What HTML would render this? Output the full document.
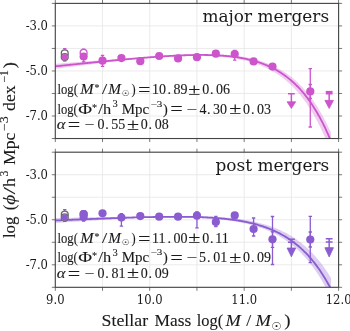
<!DOCTYPE html><html><head><meta charset="utf-8"><title>Stellar mass function</title><style>
html,body{margin:0;padding:0;background:#fff;}
#fig{position:relative;width:350px;height:331px;overflow:hidden;background:#fff;}
svg{position:absolute;left:0;top:0;}
text{fill:#1a1a1a;}
.mt{stroke:#1a1a1a;stroke-width:0.1px;}
.tk{font-family:"DejaVu Serif",serif;font-size:11.6px;}
</style></head><body><div id="fig">
<svg width="350" height="331" viewBox="0 0 350 331">
<defs>
<clipPath id="c0"><rect x="55.3" y="3.4" width="283.30" height="135.12"/></clipPath>
<clipPath id="c1"><rect x="55.3" y="152.2" width="283.30" height="135.12"/></clipPath>
</defs>
<path d="M55.30 3.40V138.52M102.52 3.40V138.52M149.73 3.40V138.52M196.95 3.40V138.52M244.17 3.40V138.52M291.38 3.40V138.52M338.60 3.40V138.52M55.30 3.40H338.60M55.30 25.92H338.60M55.30 48.44H338.60M55.30 70.96H338.60M55.30 93.48H338.60M55.30 116.00H338.60M55.30 138.52H338.60" stroke="#e6e6e6" stroke-width="0.8" fill="none"/>
<path d="M55.30 152.20V287.32M102.52 152.20V287.32M149.73 152.20V287.32M196.95 152.20V287.32M244.17 152.20V287.32M291.38 152.20V287.32M338.60 152.20V287.32M55.30 152.20H338.60M55.30 174.72H338.60M55.30 197.24H338.60M55.30 219.76H338.60M55.30 242.28H338.60M55.30 264.80H338.60M55.30 287.32H338.60" stroke="#e6e6e6" stroke-width="0.8" fill="none"/>
<g clip-path="url(#c0)">
<path d="M55.30 63.83L56.24 63.76L57.19 63.68L58.13 63.60L59.08 63.53L60.02 63.45L60.97 63.38L61.91 63.30L62.85 63.22L63.80 63.15L64.74 63.07L65.69 63.00L66.63 62.92L67.58 62.85L68.52 62.77L69.47 62.70L70.41 62.62L71.35 62.55L72.30 62.47L73.24 62.40L74.19 62.32L75.13 62.25L76.08 62.17L77.02 62.10L77.96 62.03L78.91 61.95L79.85 61.88L80.80 61.80L81.74 61.73L82.69 61.66L83.63 61.58L84.57 61.51L85.52 61.44L86.46 61.36L87.41 61.29L88.35 61.22L89.30 61.14L90.24 61.07L91.18 61.00L92.13 60.93L93.07 60.85L94.02 60.78L94.96 60.71L95.91 60.64L96.85 60.57L97.79 60.50L98.74 60.43L99.68 60.35L100.63 60.28L101.57 60.21L102.52 60.14L103.46 60.07L104.41 60.00L105.35 59.93L106.29 59.86L107.24 59.79L108.18 59.72L109.13 59.65L110.07 59.59L111.02 59.52L111.96 59.45L112.90 59.38L113.85 59.31L114.79 59.25L115.74 59.18L116.68 59.11L117.63 59.04L118.57 58.98L119.51 58.91L120.46 58.85L121.40 58.78L122.35 58.72L123.29 58.65L124.24 58.59L125.18 58.52L126.12 58.46L127.07 58.39L128.01 58.33L128.96 58.27L129.90 58.21L130.85 58.14L131.79 58.08L132.74 58.02L133.68 57.96L134.62 57.90L135.57 57.84L136.51 57.76L137.46 57.68L138.40 57.59L139.35 57.51L140.29 57.43L141.23 57.35L142.18 57.27L143.12 57.20L144.07 57.12L145.01 57.04L145.96 56.96L146.90 56.89L147.84 56.81L148.79 56.73L149.73 56.66L150.68 56.59L151.62 56.51L152.57 56.44L153.51 56.37L154.46 56.29L155.40 56.22L156.34 56.15L157.29 56.08L158.23 56.02L159.18 55.95L160.12 55.88L161.07 55.81L162.01 55.75L162.95 55.68L163.90 55.62L164.84 55.56L165.79 55.49L166.73 55.43L167.68 55.37L168.62 55.31L169.56 55.26L170.51 55.20L171.45 55.14L172.40 55.09L173.34 55.03L174.29 54.98L175.23 54.93L176.17 54.88L177.12 54.83L178.06 54.78L179.01 54.73L179.95 54.68L180.90 54.64L181.84 54.60L182.78 54.55L183.73 54.51L184.67 54.47L185.62 54.44L186.56 54.40L187.51 54.37L188.45 54.33L189.40 54.30L190.34 54.27L191.28 54.24L192.23 54.22L193.17 54.19L194.12 54.17L195.06 54.15L196.01 54.13L196.95 54.11L197.89 54.09L198.84 54.08L199.78 54.07L200.73 54.06L201.67 54.05L202.62 54.05L203.56 54.04L204.50 54.04L205.45 54.05L206.39 54.05L207.34 54.06L208.28 54.07L209.23 54.08L210.17 54.09L211.12 54.11L212.06 54.13L213.00 54.15L213.95 54.18L214.89 54.20L215.84 54.24L216.78 54.27L217.73 54.31L218.67 54.35L219.61 54.39L220.56 54.44L221.50 54.49L222.45 54.55L223.39 54.61L224.34 54.67L225.28 54.73L226.22 54.80L227.17 54.88L228.11 54.95L229.06 55.04L230.00 55.12L230.95 55.21L231.89 55.31L232.83 55.41L233.78 55.51L234.72 55.62L235.67 55.74L236.61 55.86L237.56 55.98L238.50 56.11L239.44 56.24L240.39 56.38L241.33 56.53L242.28 56.68L243.22 56.84L244.17 57.00L245.11 57.17L246.06 57.35L247.00 57.53L247.94 57.72L248.89 57.92L249.83 58.12L250.78 58.33L251.72 58.55L252.67 58.77L253.61 59.00L254.55 59.24L255.50 59.49L256.44 59.75L257.39 60.01L258.33 60.29L259.28 60.57L260.22 60.86L261.16 61.16L262.11 61.47L263.05 61.79L264.00 62.11L264.94 62.45L265.89 62.80L266.83 63.16L267.78 63.53L268.72 63.91L269.66 64.30L270.61 64.71L271.55 65.12L272.50 65.55L273.44 65.99L274.39 66.44L275.33 66.91L276.27 67.39L277.22 67.88L278.16 68.38L279.11 68.90L280.05 69.44L281.00 69.99L281.94 70.55L282.88 71.13L283.83 71.73L284.77 72.34L285.72 72.97L286.66 73.61L287.61 74.28L288.55 74.96L289.49 75.66L290.44 76.37L291.38 77.11L292.33 77.87L293.27 78.64L294.22 79.44L295.16 80.26L296.11 81.10L297.05 81.96L297.99 82.84L298.94 83.75L299.88 84.68L300.83 85.63L301.77 86.61L302.72 87.61L303.66 88.64L304.60 89.70L305.55 90.78L306.49 91.89L307.44 93.03L308.38 94.19L309.33 95.39L310.27 96.62L311.21 97.87L312.16 99.16L313.10 100.49L314.05 101.84L314.99 103.23L315.94 104.65L316.88 106.11L317.82 107.61L318.77 109.14L319.71 110.71L320.66 112.32L321.60 113.97L322.55 115.66L323.49 117.39L324.44 119.17L325.38 120.99L326.32 122.85L327.27 124.76L328.21 126.71L329.16 128.72L330.10 130.77L331.05 132.87L331.05 152.82L330.10 150.29L329.16 147.82L328.21 145.41L327.27 143.05L326.32 140.75L325.38 138.50L324.44 136.31L323.49 134.17L322.55 132.09L321.60 130.05L320.66 128.06L319.71 126.11L318.77 124.22L317.82 122.37L316.88 120.56L315.94 118.80L314.99 117.08L314.05 115.40L313.10 113.76L312.16 112.17L311.21 110.61L310.27 109.08L309.33 107.60L308.38 106.15L307.44 104.74L306.49 103.36L305.55 102.01L304.60 100.70L303.66 99.42L302.72 98.17L301.77 96.95L300.83 95.76L299.88 94.60L298.94 93.47L297.99 92.37L297.05 91.30L296.11 90.25L295.16 89.23L294.22 88.23L293.27 87.26L292.33 86.31L291.38 85.39L290.44 84.49L289.49 83.62L288.55 82.76L287.61 81.93L286.66 81.12L285.72 80.33L284.77 79.56L283.83 78.80L282.88 78.07L281.94 77.36L281.00 76.67L280.05 75.99L279.11 75.33L278.16 74.69L277.22 74.07L276.27 73.46L275.33 72.87L274.39 72.30L273.44 71.74L272.50 71.19L271.55 70.66L270.61 70.15L269.66 69.64L268.72 69.16L267.78 68.68L266.83 68.22L265.89 67.77L264.94 67.33L264.00 66.91L263.05 66.50L262.11 66.10L261.16 65.71L260.22 65.33L259.28 64.96L258.33 64.61L257.39 64.26L256.44 63.93L255.50 63.60L254.55 63.29L253.61 62.98L252.67 62.68L251.72 62.39L250.78 62.11L249.83 61.84L248.89 61.58L247.94 61.33L247.00 61.08L246.06 60.84L245.11 60.61L244.17 60.39L243.22 60.18L242.28 59.97L241.33 59.77L240.39 59.57L239.44 59.39L238.50 59.21L237.56 59.03L236.61 58.86L235.67 58.70L234.72 58.55L233.78 58.40L232.83 58.25L231.89 58.11L230.95 57.98L230.00 57.85L229.06 57.73L228.11 57.61L227.17 57.50L226.22 57.39L225.28 57.29L224.34 57.19L223.39 57.10L222.45 57.01L221.50 56.92L220.56 56.84L219.61 56.76L218.67 56.69L217.73 56.62L216.78 56.56L215.84 56.50L214.89 56.44L213.95 56.39L213.00 56.34L212.06 56.29L211.12 56.25L210.17 56.21L209.23 56.17L208.28 56.13L207.34 56.10L206.39 56.08L205.45 56.05L204.50 56.03L203.56 56.01L202.62 55.99L201.67 55.98L200.73 55.97L199.78 55.96L198.84 55.96L197.89 55.95L196.95 55.95L196.01 55.95L195.06 55.96L194.12 55.96L193.17 55.97L192.23 55.98L191.28 55.99L190.34 56.01L189.40 56.02L188.45 56.04L187.51 56.06L186.56 56.08L185.62 56.11L184.67 56.13L183.73 56.16L182.78 56.19L181.84 56.22L180.90 56.25L179.95 56.28L179.01 56.32L178.06 56.36L177.12 56.39L176.17 56.43L175.23 56.47L174.29 56.52L173.34 56.56L172.40 56.61L171.45 56.65L170.51 56.70L169.56 56.75L168.62 56.80L167.68 56.85L166.73 56.90L165.79 56.96L164.84 57.01L163.90 57.07L162.95 57.12L162.01 57.18L161.07 57.24L160.12 57.30L159.18 57.36L158.23 57.42L157.29 57.48L156.34 57.55L155.40 57.61L154.46 57.67L153.51 57.74L152.57 57.81L151.62 57.87L150.68 57.94L149.73 58.01L148.79 58.08L147.84 58.15L146.90 58.22L145.96 58.29L145.01 58.37L144.07 58.44L143.12 58.51L142.18 58.59L141.23 58.66L140.29 58.74L139.35 58.82L138.40 58.89L137.46 58.97L136.51 59.05L135.57 59.13L134.62 59.23L133.68 59.33L132.74 59.43L131.79 59.53L130.85 59.64L129.90 59.74L128.96 59.85L128.01 59.95L127.07 60.06L126.12 60.16L125.18 60.27L124.24 60.37L123.29 60.48L122.35 60.59L121.40 60.70L120.46 60.80L119.51 60.91L118.57 61.02L117.63 61.13L116.68 61.24L115.74 61.35L114.79 61.46L113.85 61.57L112.90 61.68L111.96 61.79L111.02 61.90L110.07 62.01L109.13 62.13L108.18 62.24L107.24 62.35L106.29 62.46L105.35 62.58L104.41 62.69L103.46 62.80L102.52 62.92L101.57 63.03L100.63 63.14L99.68 63.26L98.74 63.37L97.79 63.49L96.85 63.60L95.91 63.72L94.96 63.83L94.02 63.95L93.07 64.06L92.13 64.18L91.18 64.30L90.24 64.41L89.30 64.53L88.35 64.65L87.41 64.76L86.46 64.88L85.52 65.00L84.57 65.11L83.63 65.23L82.69 65.35L81.74 65.47L80.80 65.58L79.85 65.70L78.91 65.82L77.96 65.94L77.02 66.06L76.08 66.18L75.13 66.29L74.19 66.41L73.24 66.53L72.30 66.65L71.35 66.77L70.41 66.89L69.47 67.01L68.52 67.13L67.58 67.25L66.63 67.37L65.69 67.49L64.74 67.61L63.80 67.73L62.85 67.85L61.91 67.97L60.97 68.09L60.02 68.21L59.08 68.33L58.13 68.45L57.19 68.57L56.24 68.69L55.30 68.81Z" fill="#cc55cc" fill-opacity="0.3" stroke="none"/>
<path d="M55.30 66.32L56.24 66.22L57.19 66.12L58.13 66.02L59.08 65.92L60.02 65.83L60.97 65.73L61.91 65.63L62.85 65.53L63.80 65.44L64.74 65.34L65.69 65.24L66.63 65.14L67.58 65.04L68.52 64.95L69.47 64.85L70.41 64.75L71.35 64.66L72.30 64.56L73.24 64.46L74.19 64.37L75.13 64.27L76.08 64.17L77.02 64.08L77.96 63.98L78.91 63.88L79.85 63.79L80.80 63.69L81.74 63.59L82.69 63.50L83.63 63.40L84.57 63.31L85.52 63.21L86.46 63.12L87.41 63.02L88.35 62.93L89.30 62.83L90.24 62.74L91.18 62.64L92.13 62.55L93.07 62.46L94.02 62.36L94.96 62.27L95.91 62.17L96.85 62.08L97.79 61.99L98.74 61.89L99.68 61.80L100.63 61.71L101.57 61.62L102.52 61.52L103.46 61.43L104.41 61.34L105.35 61.25L106.29 61.16L107.24 61.07L108.18 60.97L109.13 60.88L110.07 60.79L111.02 60.70L111.96 60.61L112.90 60.52L113.85 60.43L114.79 60.35L115.74 60.26L116.68 60.17L117.63 60.08L118.57 59.99L119.51 59.90L120.46 59.82L121.40 59.73L122.35 59.64L123.29 59.56L124.24 59.47L125.18 59.39L126.12 59.30L127.07 59.22L128.01 59.13L128.96 59.05L129.90 58.96L130.85 58.88L131.79 58.80L132.74 58.71L133.68 58.63L134.62 58.55L135.57 58.47L136.51 58.39L137.46 58.31L138.40 58.23L139.35 58.15L140.29 58.07L141.23 57.99L142.18 57.92L143.12 57.84L144.07 57.76L145.01 57.69L145.96 57.61L146.90 57.54L147.84 57.46L148.79 57.39L149.73 57.32L150.68 57.25L151.62 57.17L152.57 57.10L153.51 57.03L154.46 56.97L155.40 56.90L156.34 56.83L157.29 56.76L158.23 56.70L159.18 56.63L160.12 56.57L161.07 56.50L162.01 56.44L162.95 56.38L163.90 56.32L164.84 56.26L165.79 56.20L166.73 56.14L167.68 56.08L168.62 56.03L169.56 55.97L170.51 55.92L171.45 55.87L172.40 55.82L173.34 55.77L174.29 55.72L175.23 55.67L176.17 55.62L177.12 55.58L178.06 55.53L179.01 55.49L179.95 55.45L180.90 55.41L181.84 55.37L182.78 55.33L183.73 55.30L184.67 55.26L185.62 55.23L186.56 55.20L187.51 55.17L188.45 55.14L189.40 55.12L190.34 55.09L191.28 55.07L192.23 55.05L193.17 55.03L194.12 55.01L195.06 55.00L196.01 54.99L196.95 54.98L197.89 54.97L198.84 54.96L199.78 54.96L200.73 54.95L201.67 54.95L202.62 54.96L203.56 54.96L204.50 54.97L205.45 54.98L206.39 54.99L207.34 55.01L208.28 55.03L209.23 55.05L210.17 55.07L211.12 55.10L212.06 55.13L213.00 55.16L213.95 55.20L214.89 55.24L215.84 55.28L216.78 55.32L217.73 55.37L218.67 55.43L219.61 55.48L220.56 55.54L221.50 55.61L222.45 55.67L223.39 55.75L224.34 55.82L225.28 55.90L226.22 55.98L227.17 56.07L228.11 56.17L229.06 56.26L230.00 56.36L230.95 56.47L231.89 56.58L232.83 56.70L233.78 56.82L234.72 56.95L235.67 57.08L236.61 57.21L237.56 57.36L238.50 57.51L239.44 57.66L240.39 57.82L241.33 57.99L242.28 58.16L243.22 58.34L244.17 58.52L245.11 58.72L246.06 58.91L247.00 59.12L247.94 59.33L248.89 59.55L249.83 59.78L250.78 60.02L251.72 60.26L252.67 60.51L253.61 60.77L254.55 61.04L255.50 61.32L256.44 61.60L257.39 61.90L258.33 62.20L259.28 62.51L260.22 62.84L261.16 63.17L262.11 63.51L263.05 63.87L264.00 64.23L264.94 64.60L265.89 64.99L266.83 65.39L267.78 65.80L268.72 66.22L269.66 66.65L270.61 67.09L271.55 67.55L272.50 68.02L273.44 68.51L274.39 69.01L275.33 69.52L276.27 70.04L277.22 70.58L278.16 71.14L279.11 71.71L280.05 72.30L281.00 72.90L281.94 73.52L282.88 74.15L283.83 74.81L284.77 75.48L285.72 76.17L286.66 76.87L287.61 77.60L288.55 78.34L289.49 79.11L290.44 79.89L291.38 80.70L292.33 81.53L293.27 82.38L294.22 83.25L295.16 84.14L296.11 85.06L297.05 86.00L297.99 86.96L298.94 87.95L299.88 88.96L300.83 90.00L301.77 91.07L302.72 92.16L303.66 93.29L304.60 94.44L305.55 95.62L306.49 96.83L307.44 98.07L308.38 99.34L309.33 100.64L310.27 101.98L311.21 103.35L312.16 104.75L313.10 106.19L314.05 107.66L314.99 109.18L315.94 110.72L316.88 112.31L317.82 113.94L318.77 115.61L319.71 117.31L320.66 119.06L321.60 120.86L322.55 122.70L323.49 124.58L324.44 126.51L325.38 128.48L326.32 130.51L327.27 132.58L328.21 134.71L329.16 136.88L330.10 139.11L331.05 141.40" fill="none" stroke="#cc55cc" stroke-width="1.8"/>
</g>
<g clip-path="url(#c1)">
<path d="M55.30 217.99L56.24 217.98L57.19 217.96L58.13 217.94L59.08 217.92L60.02 217.90L60.97 217.88L61.91 217.87L62.85 217.85L63.80 217.83L64.74 217.81L65.69 217.80L66.63 217.78L67.58 217.76L68.52 217.74L69.47 217.72L70.41 217.71L71.35 217.69L72.30 217.67L73.24 217.66L74.19 217.64L75.13 217.62L76.08 217.60L77.02 217.59L77.96 217.57L78.91 217.55L79.85 217.54L80.80 217.52L81.74 217.50L82.69 217.49L83.63 217.47L84.57 217.45L85.52 217.44L86.46 217.42L87.41 217.41L88.35 217.39L89.30 217.37L90.24 217.36L91.18 217.34L92.13 217.33L93.07 217.31L94.02 217.30L94.96 217.28L95.91 217.27L96.85 217.25L97.79 217.24L98.74 217.22L99.68 217.21L100.63 217.19L101.57 217.18L102.52 217.16L103.46 217.15L104.41 217.14L105.35 217.12L106.29 217.11L107.24 217.10L108.18 217.08L109.13 217.07L110.07 217.06L111.02 217.04L111.96 217.03L112.90 217.02L113.85 217.01L114.79 217.00L115.74 216.98L116.68 216.97L117.63 216.96L118.57 216.95L119.51 216.94L120.46 216.93L121.40 216.92L122.35 216.91L123.29 216.90L124.24 216.89L125.18 216.88L126.12 216.87L127.07 216.86L128.01 216.85L128.96 216.84L129.90 216.83L130.85 216.82L131.79 216.82L132.74 216.81L133.68 216.80L134.62 216.80L135.57 216.79L136.51 216.76L137.46 216.73L138.40 216.70L139.35 216.68L140.29 216.65L141.23 216.62L142.18 216.59L143.12 216.57L144.07 216.54L145.01 216.52L145.96 216.49L146.90 216.47L147.84 216.44L148.79 216.42L149.73 216.40L150.68 216.37L151.62 216.35L152.57 216.33L153.51 216.31L154.46 216.29L155.40 216.27L156.34 216.25L157.29 216.23L158.23 216.21L159.18 216.19L160.12 216.17L161.07 216.15L162.01 216.14L162.95 216.12L163.90 216.11L164.84 216.09L165.79 216.08L166.73 216.06L167.68 216.05L168.62 216.04L169.56 216.03L170.51 216.02L171.45 216.01L172.40 216.00L173.34 215.99L174.29 215.98L175.23 215.97L176.17 215.97L177.12 215.96L178.06 215.96L179.01 215.96L179.95 215.95L180.90 215.95L181.84 215.95L182.78 215.95L183.73 215.96L184.67 215.96L185.62 215.96L186.56 215.97L187.51 215.97L188.45 215.98L189.40 215.99L190.34 216.00L191.28 216.01L192.23 216.02L193.17 216.03L194.12 216.05L195.06 216.06L196.01 216.08L196.95 216.10L197.89 216.12L198.84 216.14L199.78 216.16L200.73 216.19L201.67 216.21L202.62 216.24L203.56 216.27L204.50 216.30L205.45 216.33L206.39 216.37L207.34 216.40L208.28 216.44L209.23 216.48L210.17 216.52L211.12 216.57L212.06 216.61L213.00 216.66L213.95 216.71L214.89 216.76L215.84 216.82L216.78 216.88L217.73 216.93L218.67 217.00L219.61 217.06L220.56 217.13L221.50 217.19L222.45 217.27L223.39 217.34L224.34 217.42L225.28 217.50L226.22 217.58L227.17 217.66L228.11 217.75L229.06 217.84L230.00 217.94L230.95 218.04L231.89 218.14L232.83 218.24L233.78 218.35L234.72 218.46L235.67 218.57L236.61 218.69L237.56 218.82L238.50 218.94L239.44 219.07L240.39 219.21L241.33 219.34L242.28 219.49L243.22 219.63L244.17 219.78L245.11 219.94L246.06 220.10L247.00 220.27L247.94 220.44L248.89 220.61L249.83 220.79L250.78 220.97L251.72 221.17L252.67 221.36L253.61 221.56L254.55 221.77L255.50 221.98L256.44 222.20L257.39 222.43L258.33 222.66L259.28 222.89L260.22 223.14L261.16 223.39L262.11 223.65L263.05 223.91L264.00 224.18L264.94 224.46L265.89 224.75L266.83 225.04L267.78 225.34L268.72 225.65L269.66 225.97L270.61 226.30L271.55 226.64L272.50 226.98L273.44 227.33L274.39 227.70L275.33 228.07L276.27 228.45L277.22 228.84L278.16 229.24L279.11 229.65L280.05 230.08L281.00 230.51L281.94 230.95L282.88 231.41L283.83 231.88L284.77 232.35L285.72 232.85L286.66 233.35L287.61 233.87L288.55 234.40L289.49 234.94L290.44 235.50L291.38 236.07L292.33 236.65L293.27 237.25L294.22 237.86L295.16 238.49L296.11 239.14L297.05 239.80L297.99 240.48L298.94 241.17L299.88 241.88L300.83 242.61L301.77 243.36L302.72 244.13L303.66 244.91L304.60 245.71L305.55 246.54L306.49 247.38L307.44 248.25L308.38 249.13L309.33 250.04L310.27 250.97L311.21 251.92L312.16 252.89L313.10 253.89L314.05 254.92L314.99 255.96L315.94 257.04L316.88 258.14L317.82 259.26L318.77 260.41L319.71 261.59L320.66 262.80L321.60 264.04L322.55 265.31L323.49 266.61L324.44 267.94L325.38 269.30L326.32 270.70L327.27 272.12L328.21 273.59L329.16 275.08L330.10 276.62L331.05 278.19L331.05 298.23L330.10 296.23L329.16 294.28L328.21 292.37L327.27 290.50L326.32 288.68L325.38 286.90L324.44 285.17L323.49 283.47L322.55 281.81L321.60 280.20L320.66 278.62L319.71 277.07L318.77 275.56L317.82 274.09L316.88 272.65L315.94 271.25L314.99 269.88L314.05 268.54L313.10 267.23L312.16 265.96L311.21 264.71L310.27 263.49L309.33 262.30L308.38 261.14L307.44 260.01L306.49 258.90L305.55 257.82L304.60 256.77L303.66 255.74L302.72 254.73L301.77 253.75L300.83 252.79L299.88 251.86L298.94 250.95L297.99 250.05L297.05 249.18L296.11 248.34L295.16 247.51L294.22 246.70L293.27 245.91L292.33 245.14L291.38 244.38L290.44 243.65L289.49 242.93L288.55 242.23L287.61 241.55L286.66 240.89L285.72 240.24L284.77 239.60L283.83 238.98L282.88 238.38L281.94 237.79L281.00 237.22L280.05 236.66L279.11 236.11L278.16 235.58L277.22 235.06L276.27 234.55L275.33 234.06L274.39 233.57L273.44 233.10L272.50 232.64L271.55 232.20L270.61 231.76L269.66 231.33L268.72 230.92L267.78 230.52L266.83 230.12L265.89 229.74L264.94 229.36L264.00 229.00L263.05 228.64L262.11 228.30L261.16 227.96L260.22 227.63L259.28 227.31L258.33 227.00L257.39 226.69L256.44 226.40L255.50 226.11L254.55 225.83L253.61 225.55L252.67 225.29L251.72 225.03L250.78 224.77L249.83 224.53L248.89 224.29L247.94 224.06L247.00 223.83L246.06 223.61L245.11 223.39L244.17 223.18L243.22 222.98L242.28 222.78L241.33 222.59L240.39 222.41L239.44 222.22L238.50 222.05L237.56 221.88L236.61 221.71L235.67 221.55L234.72 221.39L233.78 221.24L232.83 221.09L231.89 220.95L230.95 220.81L230.00 220.67L229.06 220.54L228.11 220.42L227.17 220.29L226.22 220.17L225.28 220.06L224.34 219.94L223.39 219.84L222.45 219.73L221.50 219.63L220.56 219.53L219.61 219.44L218.67 219.34L217.73 219.25L216.78 219.17L215.84 219.08L214.89 219.00L213.95 218.93L213.00 218.85L212.06 218.78L211.12 218.71L210.17 218.64L209.23 218.58L208.28 218.52L207.34 218.46L206.39 218.40L205.45 218.34L204.50 218.29L203.56 218.24L202.62 218.19L201.67 218.15L200.73 218.10L199.78 218.06L198.84 218.02L197.89 217.98L196.95 217.94L196.01 217.91L195.06 217.88L194.12 217.84L193.17 217.81L192.23 217.79L191.28 217.76L190.34 217.74L189.40 217.71L188.45 217.69L187.51 217.67L186.56 217.65L185.62 217.63L184.67 217.62L183.73 217.60L182.78 217.59L181.84 217.58L180.90 217.57L179.95 217.56L179.01 217.55L178.06 217.54L177.12 217.53L176.17 217.53L175.23 217.52L174.29 217.52L173.34 217.52L172.40 217.52L171.45 217.52L170.51 217.52L169.56 217.52L168.62 217.52L167.68 217.53L166.73 217.53L165.79 217.54L164.84 217.55L163.90 217.55L162.95 217.56L162.01 217.57L161.07 217.58L160.12 217.59L159.18 217.60L158.23 217.61L157.29 217.63L156.34 217.64L155.40 217.65L154.46 217.67L153.51 217.68L152.57 217.70L151.62 217.71L150.68 217.73L149.73 217.75L148.79 217.77L147.84 217.79L146.90 217.81L145.96 217.83L145.01 217.85L144.07 217.87L143.12 217.89L142.18 217.91L141.23 217.93L140.29 217.96L139.35 217.98L138.40 218.00L137.46 218.03L136.51 218.05L135.57 218.08L134.62 218.12L133.68 218.17L132.74 218.22L131.79 218.27L130.85 218.32L129.90 218.37L128.96 218.42L128.01 218.47L127.07 218.52L126.12 218.57L125.18 218.62L124.24 218.68L123.29 218.73L122.35 218.78L121.40 218.83L120.46 218.89L119.51 218.94L118.57 218.99L117.63 219.05L116.68 219.10L115.74 219.15L114.79 219.21L113.85 219.26L112.90 219.32L111.96 219.37L111.02 219.43L110.07 219.49L109.13 219.54L108.18 219.60L107.24 219.65L106.29 219.71L105.35 219.77L104.41 219.82L103.46 219.88L102.52 219.94L101.57 220.00L100.63 220.05L99.68 220.11L98.74 220.17L97.79 220.23L96.85 220.29L95.91 220.35L94.96 220.40L94.02 220.46L93.07 220.52L92.13 220.58L91.18 220.64L90.24 220.70L89.30 220.76L88.35 220.82L87.41 220.88L86.46 220.94L85.52 221.00L84.57 221.06L83.63 221.12L82.69 221.18L81.74 221.24L80.80 221.30L79.85 221.36L78.91 221.42L77.96 221.48L77.02 221.54L76.08 221.61L75.13 221.67L74.19 221.73L73.24 221.79L72.30 221.85L71.35 221.91L70.41 221.97L69.47 222.04L68.52 222.10L67.58 222.16L66.63 222.22L65.69 222.28L64.74 222.35L63.80 222.41L62.85 222.47L61.91 222.53L60.97 222.59L60.02 222.66L59.08 222.72L58.13 222.78L57.19 222.85L56.24 222.91L55.30 222.97Z" fill="#8a5cd0" fill-opacity="0.3" stroke="none"/>
<path d="M55.30 220.48L56.24 220.44L57.19 220.40L58.13 220.36L59.08 220.32L60.02 220.28L60.97 220.24L61.91 220.20L62.85 220.16L63.80 220.12L64.74 220.08L65.69 220.04L66.63 220.00L67.58 219.96L68.52 219.92L69.47 219.88L70.41 219.84L71.35 219.80L72.30 219.76L73.24 219.72L74.19 219.68L75.13 219.65L76.08 219.61L77.02 219.57L77.96 219.53L78.91 219.49L79.85 219.45L80.80 219.41L81.74 219.37L82.69 219.34L83.63 219.30L84.57 219.26L85.52 219.22L86.46 219.18L87.41 219.14L88.35 219.11L89.30 219.07L90.24 219.03L91.18 218.99L92.13 218.96L93.07 218.92L94.02 218.88L94.96 218.85L95.91 218.81L96.85 218.77L97.79 218.74L98.74 218.70L99.68 218.66L100.63 218.63L101.57 218.59L102.52 218.56L103.46 218.52L104.41 218.48L105.35 218.45L106.29 218.41L107.24 218.38L108.18 218.34L109.13 218.31L110.07 218.28L111.02 218.24L111.96 218.21L112.90 218.17L113.85 218.14L114.79 218.11L115.74 218.07L116.68 218.04L117.63 218.01L118.57 217.98L119.51 217.94L120.46 217.91L121.40 217.88L122.35 217.85L123.29 217.82L124.24 217.79L125.18 217.76L126.12 217.73L127.07 217.70L128.01 217.67L128.96 217.64L129.90 217.61L130.85 217.58L131.79 217.55L132.74 217.52L133.68 217.50L134.62 217.47L135.57 217.44L136.51 217.41L137.46 217.39L138.40 217.36L139.35 217.34L140.29 217.31L141.23 217.29L142.18 217.26L143.12 217.24L144.07 217.22L145.01 217.19L145.96 217.17L146.90 217.15L147.84 217.13L148.79 217.11L149.73 217.08L150.68 217.06L151.62 217.05L152.57 217.03L153.51 217.01L154.46 216.99L155.40 216.97L156.34 216.96L157.29 216.94L158.23 216.93L159.18 216.91L160.12 216.90L161.07 216.88L162.01 216.87L162.95 216.86L163.90 216.85L164.84 216.84L165.79 216.83L166.73 216.82L167.68 216.81L168.62 216.80L169.56 216.79L170.51 216.79L171.45 216.78L172.40 216.78L173.34 216.78L174.29 216.77L175.23 216.77L176.17 216.77L177.12 216.77L178.06 216.77L179.01 216.78L179.95 216.78L180.90 216.79L181.84 216.79L182.78 216.80L183.73 216.81L184.67 216.82L185.62 216.83L186.56 216.84L187.51 216.85L188.45 216.87L189.40 216.88L190.34 216.90L191.28 216.92L192.23 216.94L193.17 216.96L194.12 216.98L195.06 217.01L196.01 217.03L196.95 217.06L197.89 217.09L198.84 217.12L199.78 217.15L200.73 217.19L201.67 217.22L202.62 217.26L203.56 217.30L204.50 217.34L205.45 217.39L206.39 217.43L207.34 217.48L208.28 217.53L209.23 217.58L210.17 217.64L211.12 217.69L212.06 217.75L213.00 217.81L213.95 217.88L214.89 217.94L215.84 218.01L216.78 218.08L217.73 218.16L218.67 218.24L219.61 218.32L220.56 218.40L221.50 218.48L222.45 218.57L223.39 218.66L224.34 218.76L225.28 218.85L226.22 218.96L227.17 219.06L228.11 219.17L229.06 219.28L230.00 219.39L230.95 219.51L231.89 219.63L232.83 219.76L233.78 219.89L234.72 220.02L235.67 220.16L236.61 220.31L237.56 220.45L238.50 220.60L239.44 220.76L240.39 220.92L241.33 221.08L242.28 221.25L243.22 221.43L244.17 221.61L245.11 221.79L246.06 221.98L247.00 222.18L247.94 222.38L248.89 222.59L249.83 222.80L250.78 223.02L251.72 223.24L252.67 223.48L253.61 223.71L254.55 223.96L255.50 224.21L256.44 224.47L257.39 224.73L258.33 225.00L259.28 225.28L260.22 225.57L261.16 225.86L262.11 226.16L263.05 226.47L264.00 226.79L264.94 227.12L265.89 227.45L266.83 227.80L267.78 228.15L268.72 228.51L269.66 228.88L270.61 229.27L271.55 229.66L272.50 230.06L273.44 230.47L274.39 230.89L275.33 231.33L276.27 231.77L277.22 232.23L278.16 232.69L279.11 233.17L280.05 233.66L281.00 234.17L281.94 234.68L282.88 235.21L283.83 235.76L284.77 236.31L285.72 236.88L286.66 237.47L287.61 238.07L288.55 238.68L289.49 239.31L290.44 239.96L291.38 240.62L292.33 241.29L293.27 241.99L294.22 242.70L295.16 243.43L296.11 244.18L297.05 244.94L297.99 245.73L298.94 246.53L299.88 247.35L300.83 248.20L301.77 249.06L302.72 249.95L303.66 250.85L304.60 251.78L305.55 252.73L306.49 253.71L307.44 254.71L308.38 255.73L309.33 256.78L310.27 257.85L311.21 258.95L312.16 260.08L313.10 261.23L314.05 262.41L314.99 263.62L315.94 264.86L316.88 266.12L317.82 267.42L318.77 268.75L319.71 270.11L320.66 271.51L321.60 272.94L322.55 274.40L323.49 275.90L324.44 277.43L325.38 279.00L326.32 280.61L327.27 282.25L328.21 283.94L329.16 285.66L330.10 287.43L331.05 289.24" fill="none" stroke="#8a5cd0" stroke-width="1.8"/>
</g>
<g clip-path="url(#c0)">
<path d="M64.74 48.70V61.20M63.04 48.70H66.44M63.04 61.20H66.44" stroke="#cc55cc" stroke-width="1.3" fill="none"/>
<path d="M83.63 49.20V61.90M81.93 49.20H85.33M81.93 61.90H85.33" stroke="#cc55cc" stroke-width="1.3" fill="none"/>
<path d="M102.52 55.30V66.40M100.82 55.30H104.22M100.82 66.40H104.22" stroke="#cc55cc" stroke-width="1.3" fill="none"/>
<path d="M234.72 50.50V60.20M233.02 50.50H236.42M233.02 60.20H236.42" stroke="#cc55cc" stroke-width="1.3" fill="none"/>
<path d="M310.27 68.60V127.00M308.57 68.60H311.97M308.57 127.00H311.97" stroke="#cc55cc" stroke-width="1.3" fill="none"/>
<path d="M310.27 84.50V98.30M308.57 84.50H311.97M308.57 98.30H311.97" stroke="#cc55cc" stroke-width="1.3" fill="none"/>
<circle cx="64.74" cy="53.40" r="3.45" fill="#fff" stroke="#6b6b6b" stroke-width="1.3"/>
<circle cx="64.74" cy="57.00" r="3.45" fill="#fff" stroke="#6b6b6b" stroke-width="1.3"/>
<circle cx="83.63" cy="52.90" r="3.45" fill="#fff" stroke="#cc55cc" stroke-width="1.3"/>
<circle cx="64.74" cy="57.10" r="3.1" fill="#cc55cc"/>
<circle cx="83.63" cy="56.50" r="4.1" fill="#cc55cc"/>
<circle cx="102.52" cy="60.70" r="4.1" fill="#cc55cc"/>
<circle cx="121.40" cy="58.10" r="4.1" fill="#cc55cc"/>
<circle cx="140.29" cy="61.20" r="4.1" fill="#cc55cc"/>
<circle cx="159.18" cy="56.00" r="4.1" fill="#cc55cc"/>
<circle cx="178.06" cy="58.40" r="4.1" fill="#cc55cc"/>
<circle cx="196.95" cy="57.20" r="4.1" fill="#cc55cc"/>
<circle cx="215.84" cy="53.70" r="4.1" fill="#cc55cc"/>
<circle cx="234.72" cy="54.10" r="4.1" fill="#cc55cc"/>
<circle cx="253.61" cy="61.40" r="4.1" fill="#cc55cc"/>
<circle cx="272.50" cy="66.60" r="4.1" fill="#cc55cc"/>
<path d="M291.38 93.70V103.40" stroke="#cc55cc" stroke-width="1.5"/>
<path d="M287.98 93.70H294.78" stroke="#cc55cc" stroke-width="1.5"/>
<path d="M287.08 101.80L295.68 101.80L291.38 108.40Z" fill="#cc55cc" stroke="#cc55cc" stroke-width="0.8" stroke-linejoin="miter"/>
<circle cx="310.27" cy="91.40" r="4.1" fill="#cc55cc"/>
<path d="M329.16 90.90V102.00" stroke="#cc55cc" stroke-width="1.5"/>
<rect x="325.76" y="90.90" width="6.8" height="3.60" fill="#cc55cc"/>
<path d="M325.76 101.20H332.56" stroke="#cc55cc" stroke-width="1.5"/>
<path d="M324.86 100.40L333.46 100.40L329.16 108.50Z" fill="#cc55cc" stroke="#cc55cc" stroke-width="0.8" stroke-linejoin="miter"/>
</g>
<g clip-path="url(#c1)">
<path d="M64.74 209.60V221.30M63.04 209.60H66.44M63.04 221.30H66.44" stroke="#8a5cd0" stroke-width="1.3" fill="none"/>
<path d="M83.63 210.90V221.00M81.93 210.90H85.33M81.93 221.00H85.33" stroke="#8a5cd0" stroke-width="1.3" fill="none"/>
<path d="M121.40 213.60V226.10M119.70 213.60H123.10M119.70 226.10H123.10" stroke="#8a5cd0" stroke-width="1.3" fill="none"/>
<path d="M196.95 212.00V227.90M195.25 212.00H198.65M195.25 227.90H198.65" stroke="#8a5cd0" stroke-width="1.3" fill="none"/>
<path d="M215.84 216.30V226.60M214.14 216.30H217.54M214.14 226.60H217.54" stroke="#8a5cd0" stroke-width="1.3" fill="none"/>
<path d="M253.61 218.00V236.00M251.91 218.00H255.31M251.91 236.00H255.31" stroke="#8a5cd0" stroke-width="1.3" fill="none"/>
<path d="M272.50 216.50V264.50M270.80 216.50H274.20M270.80 264.50H274.20" stroke="#8a5cd0" stroke-width="1.3" fill="none"/>
<path d="M272.50 231.80V247.30M270.80 231.80H274.20M270.80 247.30H274.20" stroke="#8a5cd0" stroke-width="1.3" fill="none"/>
<path d="M310.27 216.30V262.60M308.57 216.30H311.97M308.57 262.60H311.97" stroke="#8a5cd0" stroke-width="1.3" fill="none"/>
<path d="M310.27 232.00V247.00M308.57 232.00H311.97M308.57 247.00H311.97" stroke="#8a5cd0" stroke-width="1.3" fill="none"/>
<circle cx="64.74" cy="214.60" r="3.45" fill="#fff" stroke="#6b6b6b" stroke-width="1.3"/>
<circle cx="64.74" cy="217.40" r="3.45" fill="#fff" stroke="#6b6b6b" stroke-width="1.3"/>
<circle cx="83.63" cy="214.00" r="3.45" fill="#fff" stroke="#8a5cd0" stroke-width="1.3"/>
<circle cx="64.74" cy="217.40" r="3.1" fill="#8a5cd0"/>
<circle cx="83.63" cy="214.20" r="4.1" fill="#8a5cd0"/>
<circle cx="83.63" cy="217.00" r="4.1" fill="#8a5cd0"/>
<circle cx="102.52" cy="213.30" r="4.1" fill="#8a5cd0"/>
<circle cx="121.40" cy="217.60" r="4.1" fill="#8a5cd0"/>
<circle cx="140.29" cy="216.10" r="4.1" fill="#8a5cd0"/>
<circle cx="159.18" cy="216.70" r="4.1" fill="#8a5cd0"/>
<circle cx="178.06" cy="216.70" r="4.1" fill="#8a5cd0"/>
<circle cx="196.95" cy="215.70" r="4.1" fill="#8a5cd0"/>
<circle cx="215.84" cy="222.00" r="4.1" fill="#8a5cd0"/>
<circle cx="234.72" cy="215.40" r="4.1" fill="#8a5cd0"/>
<circle cx="253.61" cy="229.00" r="4.1" fill="#8a5cd0"/>
<circle cx="272.50" cy="239.30" r="4.1" fill="#8a5cd0"/>
<path d="M291.38 239.30V249.60" stroke="#8a5cd0" stroke-width="1.5"/>
<path d="M287.98 239.30H294.78" stroke="#8a5cd0" stroke-width="1.5"/>
<path d="M287.98 242.30H294.78" stroke="#8a5cd0" stroke-width="1.5"/>
<path d="M287.98 248.90H294.78" stroke="#8a5cd0" stroke-width="1.5"/>
<path d="M287.08 248.00L295.68 248.00L291.38 256.80Z" fill="#8a5cd0" stroke="#8a5cd0" stroke-width="0.8" stroke-linejoin="miter"/>
<circle cx="310.27" cy="239.50" r="4.1" fill="#8a5cd0"/>
<path d="M329.16 238.70V249.30" stroke="#8a5cd0" stroke-width="1.5"/>
<path d="M325.76 238.70H332.56" stroke="#8a5cd0" stroke-width="1.5"/>
<path d="M325.76 242.10H332.56" stroke="#8a5cd0" stroke-width="1.5"/>
<path d="M325.76 248.60H332.56" stroke="#8a5cd0" stroke-width="1.5"/>
<path d="M324.86 247.70L333.46 247.70L329.16 257.00Z" fill="#8a5cd0" stroke="#8a5cd0" stroke-width="0.8" stroke-linejoin="miter"/>
</g>
<path d="M55.30 3.40v-3.5M55.30 138.52v3.5M102.52 3.40v-3.5M102.52 138.52v3.5M149.73 3.40v-3.5M149.73 138.52v3.5M196.95 3.40v-3.5M196.95 138.52v3.5M244.17 3.40v-3.5M244.17 138.52v3.5M291.38 3.40v-3.5M291.38 138.52v3.5M338.60 3.40v-3.5M338.60 138.52v3.5M55.30 3.40h-3.5M338.60 3.40h3.5M55.30 25.92h-3.5M338.60 25.92h3.5M55.30 48.44h-3.5M338.60 48.44h3.5M55.30 70.96h-3.5M338.60 70.96h3.5M55.30 93.48h-3.5M338.60 93.48h3.5M55.30 116.00h-3.5M338.60 116.00h3.5M55.30 138.52h-3.5M338.60 138.52h3.5" stroke="#555" stroke-width="0.8" fill="none"/>
<rect x="55.3" y="3.4" width="283.30" height="135.12" fill="none" stroke="#444" stroke-width="1.1"/>
<path d="M55.30 152.20v-3.5M55.30 287.32v3.5M102.52 152.20v-3.5M102.52 287.32v3.5M149.73 152.20v-3.5M149.73 287.32v3.5M196.95 152.20v-3.5M196.95 287.32v3.5M244.17 152.20v-3.5M244.17 287.32v3.5M291.38 152.20v-3.5M291.38 287.32v3.5M338.60 152.20v-3.5M338.60 287.32v3.5M55.30 152.20h-3.5M338.60 152.20h3.5M55.30 174.72h-3.5M338.60 174.72h3.5M55.30 197.24h-3.5M338.60 197.24h3.5M55.30 219.76h-3.5M338.60 219.76h3.5M55.30 242.28h-3.5M338.60 242.28h3.5M55.30 264.80h-3.5M338.60 264.80h3.5M55.30 287.32h-3.5M338.60 287.32h3.5" stroke="#555" stroke-width="0.8" fill="none"/>
<rect x="55.3" y="152.2" width="283.30" height="135.12" fill="none" stroke="#444" stroke-width="1.1"/>
<text class="tk" transform="translate(48.0,30.22) scale(1,1.09)" text-anchor="end">-3.0</text>
<text class="tk" transform="translate(48.0,75.26) scale(1,1.09)" text-anchor="end">-5.0</text>
<text class="tk" transform="translate(48.0,120.30) scale(1,1.09)" text-anchor="end">-7.0</text>
<text class="tk" transform="translate(48.0,179.02) scale(1,1.09)" text-anchor="end">-3.0</text>
<text class="tk" transform="translate(48.0,224.06) scale(1,1.09)" text-anchor="end">-5.0</text>
<text class="tk" transform="translate(48.0,269.10) scale(1,1.09)" text-anchor="end">-7.0</text>
<text class="tk" transform="translate(55.30,303.5) scale(1,1.09)" text-anchor="middle">9.0</text>
<text class="tk" transform="translate(149.73,303.5) scale(1,1.09)" text-anchor="middle">10.0</text>
<text class="tk" transform="translate(244.17,303.5) scale(1,1.09)" text-anchor="middle">11.0</text>
<text class="tk" transform="translate(338.60,303.5) scale(1,1.09)" text-anchor="middle">12.0</text>
<text class="mt" transform="matrix(0.9057,0,0,1.0000,57.47,94.00)" style="font-family:'Liberation Serif',serif;font-size:14.0px">log(</text>
<text class="mt" transform="matrix(1.1440,0,0,1.0000,80.29,94.00)" style="font-family:'Liberation Serif',serif;font-size:14.0px;font-style:italic">M</text>
<text class="mt" transform="matrix(1.0000,0,0,1.0000,94.40,91.20)" style="font-family:'Liberation Serif',serif;font-size:10.0px">*</text>
<text class="mt" transform="matrix(1.3333,0,0,1.0000,102.00,94.00)" style="font-family:'Liberation Serif',serif;font-size:14.0px">/</text>
<text class="mt" transform="matrix(1.0880,0,0,1.0000,108.27,94.00)" style="font-family:'Liberation Serif',serif;font-size:14.0px;font-style:italic">M</text>
<text transform="matrix(1.0783,0,0,1.0000,121.69,95.82)" style="font-family:'DejaVu Sans',sans-serif;font-size:8.0px">☉</text>
<text class="mt" transform="matrix(0.8857,0,0,1.0000,131.46,94.00)" style="font-family:'Liberation Serif',serif;font-size:14.0px">)</text>
<text class="mt" transform="matrix(1.1657,0,0,1.0000,137.93,95.93)" style="font-family:'Liberation Serif',serif;font-size:19px">=</text>
<text class="mt" transform="matrix(1.0000,0,0,1.0000,151.95,94.00)" style="font-family:'Liberation Serif',serif;font-size:14.0px">10</text>
<text class="mt" transform="matrix(1.0000,0,0,1.0000,167.50,94.00)" style="font-family:'Liberation Serif',serif;font-size:14.0px">.</text>
<text class="mt" transform="matrix(1.0000,0,0,1.0000,173.60,94.00)" style="font-family:'Liberation Serif',serif;font-size:14.0px">89</text>
<text class="mt" transform="matrix(1.2903,0,0,1.0000,188.33,94.65)" style="font-family:'Liberation Serif',serif;font-size:17px">±</text>
<text class="mt" transform="matrix(1.0000,0,0,1.0000,202.20,94.00)" style="font-family:'Liberation Serif',serif;font-size:14.0px">0</text>
<text class="mt" transform="matrix(1.0000,0,0,1.0000,210.00,94.00)" style="font-family:'Liberation Serif',serif;font-size:14.0px">.</text>
<text class="mt" transform="matrix(1.0000,0,0,1.0000,216.10,94.00)" style="font-family:'Liberation Serif',serif;font-size:14.0px">06</text>
<text class="mt" transform="matrix(0.9011,0,0,1.0000,57.47,113.50)" style="font-family:'Liberation Serif',serif;font-size:14.0px">log(</text>
<text class="mt" transform="matrix(1.3514,0,0,1.0000,78.22,113.50)" style="font-family:'Liberation Serif',serif;font-size:14.0px">Φ</text>
<text class="mt" transform="matrix(1.0250,0,0,1.0000,92.09,110.60)" style="font-family:'Liberation Serif',serif;font-size:10.0px">*</text>
<text class="mt" transform="matrix(1.2267,0,0,1.0000,98.30,113.50)" style="font-family:'Liberation Serif',serif;font-size:14.0px">/</text>
<text class="mt" transform="matrix(1.1692,0,0,1.0000,103.01,113.50)" style="font-family:'Liberation Serif',serif;font-size:14.0px">h</text>
<text class="mt" transform="matrix(1.0500,0,0,1.0000,112.57,106.75)" style="font-family:'Liberation Serif',serif;font-size:10.0px">3</text>
<text class="mt" transform="matrix(1.0707,0,0,1.0000,121.76,113.50)" style="font-family:'Liberation Serif',serif;font-size:14.0px">Mpc</text>
<text class="mt" transform="matrix(1.2343,0,0,1.0000,150.38,106.60)" style="font-family:'Liberation Serif',serif;font-size:9px">−3</text>
<text class="mt" transform="matrix(1.0286,0,0,1.0000,162.89,113.50)" style="font-family:'Liberation Serif',serif;font-size:14.0px">)</text>
<text class="mt" transform="matrix(1.1771,0,0,1.0000,170.32,115.43)" style="font-family:'Liberation Serif',serif;font-size:19px">=</text>
<text class="mt" transform="matrix(1.3538,0,0,1.0000,186.78,113.50)" style="font-family:'Liberation Serif',serif;font-size:14.0px">−</text>
<text class="mt" transform="matrix(1.0000,0,0,1.0000,199.55,113.50)" style="font-family:'Liberation Serif',serif;font-size:14.0px">4</text>
<text class="mt" transform="matrix(1.0000,0,0,1.0000,207.10,113.50)" style="font-family:'Liberation Serif',serif;font-size:14.0px">.</text>
<text class="mt" transform="matrix(1.0000,0,0,1.0000,212.95,113.50)" style="font-family:'Liberation Serif',serif;font-size:14.0px">30</text>
<text class="mt" transform="matrix(1.2903,0,0,1.0000,229.33,114.15)" style="font-family:'Liberation Serif',serif;font-size:17px">±</text>
<text class="mt" transform="matrix(1.0000,0,0,1.0000,243.10,113.50)" style="font-family:'Liberation Serif',serif;font-size:14.0px">0</text>
<text class="mt" transform="matrix(1.0000,0,0,1.0000,250.90,113.50)" style="font-family:'Liberation Serif',serif;font-size:14.0px">.</text>
<text class="mt" transform="matrix(1.0000,0,0,1.0000,257.00,113.50)" style="font-family:'Liberation Serif',serif;font-size:14.0px">03</text>
<text class="mt" transform="matrix(1.1857,0,0,1.0000,56.71,128.90)" style="font-family:'Liberation Serif',serif;font-size:14.0px;font-style:italic">α</text>
<text class="mt" transform="matrix(1.1657,0,0,1.0000,67.73,130.82)" style="font-family:'Liberation Serif',serif;font-size:19px">=</text>
<text class="mt" transform="matrix(1.2615,0,0,1.0000,84.65,128.90)" style="font-family:'Liberation Serif',serif;font-size:14.0px">−</text>
<text class="mt" transform="matrix(1.0000,0,0,1.0000,97.50,128.90)" style="font-family:'Liberation Serif',serif;font-size:14.0px">0</text>
<text class="mt" transform="matrix(1.0000,0,0,1.0000,105.30,128.90)" style="font-family:'Liberation Serif',serif;font-size:14.0px">.</text>
<text class="mt" transform="matrix(1.0000,0,0,1.0000,111.15,128.90)" style="font-family:'Liberation Serif',serif;font-size:14.0px">55</text>
<text class="mt" transform="matrix(1.2903,0,0,1.0000,127.03,129.55)" style="font-family:'Liberation Serif',serif;font-size:17px">±</text>
<text class="mt" transform="matrix(1.0000,0,0,1.0000,140.80,128.90)" style="font-family:'Liberation Serif',serif;font-size:14.0px">0</text>
<text class="mt" transform="matrix(1.0000,0,0,1.0000,148.60,128.90)" style="font-family:'Liberation Serif',serif;font-size:14.0px">.</text>
<text class="mt" transform="matrix(1.0000,0,0,1.0000,154.70,128.90)" style="font-family:'Liberation Serif',serif;font-size:14.0px">08</text>
<text class="mt" transform="matrix(0.9057,0,0,1.0000,57.47,242.80)" style="font-family:'Liberation Serif',serif;font-size:14.0px">log(</text>
<text class="mt" transform="matrix(1.1440,0,0,1.0000,80.29,242.80)" style="font-family:'Liberation Serif',serif;font-size:14.0px;font-style:italic">M</text>
<text class="mt" transform="matrix(1.0000,0,0,1.0000,94.40,240.00)" style="font-family:'Liberation Serif',serif;font-size:10.0px">*</text>
<text class="mt" transform="matrix(1.3333,0,0,1.0000,102.00,242.80)" style="font-family:'Liberation Serif',serif;font-size:14.0px">/</text>
<text class="mt" transform="matrix(1.0880,0,0,1.0000,108.27,242.80)" style="font-family:'Liberation Serif',serif;font-size:14.0px;font-style:italic">M</text>
<text transform="matrix(1.0783,0,0,1.0000,121.69,244.62)" style="font-family:'DejaVu Sans',sans-serif;font-size:8.0px">☉</text>
<text class="mt" transform="matrix(0.8857,0,0,1.0000,131.46,242.80)" style="font-family:'Liberation Serif',serif;font-size:14.0px">)</text>
<text class="mt" transform="matrix(1.1657,0,0,1.0000,137.93,244.72)" style="font-family:'Liberation Serif',serif;font-size:19px">=</text>
<text class="mt" transform="matrix(1.0000,0,0,1.0000,151.95,242.80)" style="font-family:'Liberation Serif',serif;font-size:14.0px">11</text>
<text class="mt" transform="matrix(1.0000,0,0,1.0000,167.50,242.80)" style="font-family:'Liberation Serif',serif;font-size:14.0px">.</text>
<text class="mt" transform="matrix(1.0000,0,0,1.0000,173.60,242.80)" style="font-family:'Liberation Serif',serif;font-size:14.0px">00</text>
<text class="mt" transform="matrix(1.2903,0,0,1.0000,188.33,243.45)" style="font-family:'Liberation Serif',serif;font-size:17px">±</text>
<text class="mt" transform="matrix(1.0000,0,0,1.0000,202.20,242.80)" style="font-family:'Liberation Serif',serif;font-size:14.0px">0</text>
<text class="mt" transform="matrix(1.0000,0,0,1.0000,210.00,242.80)" style="font-family:'Liberation Serif',serif;font-size:14.0px">.</text>
<text class="mt" transform="matrix(1.0000,0,0,1.0000,215.35,242.80)" style="font-family:'Liberation Serif',serif;font-size:14.0px">11</text>
<text class="mt" transform="matrix(0.9011,0,0,1.0000,57.47,262.30)" style="font-family:'Liberation Serif',serif;font-size:14.0px">log(</text>
<text class="mt" transform="matrix(1.3514,0,0,1.0000,78.22,262.30)" style="font-family:'Liberation Serif',serif;font-size:14.0px">Φ</text>
<text class="mt" transform="matrix(1.0250,0,0,1.0000,92.09,259.40)" style="font-family:'Liberation Serif',serif;font-size:10.0px">*</text>
<text class="mt" transform="matrix(1.2267,0,0,1.0000,98.30,262.30)" style="font-family:'Liberation Serif',serif;font-size:14.0px">/</text>
<text class="mt" transform="matrix(1.1692,0,0,1.0000,103.01,262.30)" style="font-family:'Liberation Serif',serif;font-size:14.0px">h</text>
<text class="mt" transform="matrix(1.0500,0,0,1.0000,112.57,255.55)" style="font-family:'Liberation Serif',serif;font-size:10.0px">3</text>
<text class="mt" transform="matrix(1.0707,0,0,1.0000,121.76,262.30)" style="font-family:'Liberation Serif',serif;font-size:14.0px">Mpc</text>
<text class="mt" transform="matrix(1.2343,0,0,1.0000,150.38,255.40)" style="font-family:'Liberation Serif',serif;font-size:9px">−3</text>
<text class="mt" transform="matrix(1.0286,0,0,1.0000,162.89,262.30)" style="font-family:'Liberation Serif',serif;font-size:14.0px">)</text>
<text class="mt" transform="matrix(1.1771,0,0,1.0000,170.32,264.23)" style="font-family:'Liberation Serif',serif;font-size:19px">=</text>
<text class="mt" transform="matrix(1.3538,0,0,1.0000,186.78,262.30)" style="font-family:'Liberation Serif',serif;font-size:14.0px">−</text>
<text class="mt" transform="matrix(1.0000,0,0,1.0000,199.05,262.30)" style="font-family:'Liberation Serif',serif;font-size:14.0px">5</text>
<text class="mt" transform="matrix(1.0000,0,0,1.0000,207.10,262.30)" style="font-family:'Liberation Serif',serif;font-size:14.0px">.</text>
<text class="mt" transform="matrix(1.0000,0,0,1.0000,213.20,262.30)" style="font-family:'Liberation Serif',serif;font-size:14.0px">01</text>
<text class="mt" transform="matrix(1.2903,0,0,1.0000,229.33,262.95)" style="font-family:'Liberation Serif',serif;font-size:17px">±</text>
<text class="mt" transform="matrix(1.0000,0,0,1.0000,243.10,262.30)" style="font-family:'Liberation Serif',serif;font-size:14.0px">0</text>
<text class="mt" transform="matrix(1.0000,0,0,1.0000,250.90,262.30)" style="font-family:'Liberation Serif',serif;font-size:14.0px">.</text>
<text class="mt" transform="matrix(1.0000,0,0,1.0000,257.00,262.30)" style="font-family:'Liberation Serif',serif;font-size:14.0px">09</text>
<text class="mt" transform="matrix(1.1857,0,0,1.0000,56.71,277.70)" style="font-family:'Liberation Serif',serif;font-size:14.0px;font-style:italic">α</text>
<text class="mt" transform="matrix(1.1657,0,0,1.0000,67.73,279.62)" style="font-family:'Liberation Serif',serif;font-size:19px">=</text>
<text class="mt" transform="matrix(1.2615,0,0,1.0000,84.65,277.70)" style="font-family:'Liberation Serif',serif;font-size:14.0px">−</text>
<text class="mt" transform="matrix(1.0000,0,0,1.0000,97.50,277.70)" style="font-family:'Liberation Serif',serif;font-size:14.0px">0</text>
<text class="mt" transform="matrix(1.0000,0,0,1.0000,105.30,277.70)" style="font-family:'Liberation Serif',serif;font-size:14.0px">.</text>
<text class="mt" transform="matrix(1.0000,0,0,1.0000,111.40,277.70)" style="font-family:'Liberation Serif',serif;font-size:14.0px">81</text>
<text class="mt" transform="matrix(1.2903,0,0,1.0000,127.03,278.35)" style="font-family:'Liberation Serif',serif;font-size:17px">±</text>
<text class="mt" transform="matrix(1.0000,0,0,1.0000,140.80,277.70)" style="font-family:'Liberation Serif',serif;font-size:14.0px">0</text>
<text class="mt" transform="matrix(1.0000,0,0,1.0000,148.60,277.70)" style="font-family:'Liberation Serif',serif;font-size:14.0px">.</text>
<text class="mt" transform="matrix(1.0000,0,0,1.0000,154.70,277.70)" style="font-family:'Liberation Serif',serif;font-size:14.0px">09</text>
<text class="mt" transform="matrix(1.0675,0,0,1.0000,101.57,326.00)" style="font-family:'Liberation Serif',serif;font-size:16.7px">Stellar</text>
<text class="mt" transform="matrix(1.0423,0,0,1.0000,154.48,326.00)" style="font-family:'Liberation Serif',serif;font-size:16.7px">Mass</text>
<text class="mt" transform="matrix(0.9846,0,0,1.0000,196.65,326.00)" style="font-family:'Liberation Serif',serif;font-size:16.7px">log(</text>
<text class="mt" transform="matrix(1.0983,0,0,1.0000,225.47,326.00)" style="font-family:'Liberation Serif',serif;font-size:16.7px;font-style:italic">M</text>
<text class="mt" transform="matrix(1.0667,0,0,1.0000,246.20,326.00)" style="font-family:'Liberation Serif',serif;font-size:16.7px">/</text>
<text class="mt" transform="matrix(1.1051,0,0,1.0000,255.58,326.00)" style="font-family:'Liberation Serif',serif;font-size:16.7px;font-style:italic">M</text>
<text transform="matrix(1.0500,0,0,1.0000,271.15,330.40)" style="font-family:'DejaVu Sans',sans-serif;font-size:11px">☉</text>
<text class="mt" transform="matrix(1.1294,0,0,1.0000,284.24,326.00)" style="font-family:'Liberation Serif',serif;font-size:16.7px">)</text>
<g transform="translate(14.5,237.8) rotate(-90)">
<text class="mt" transform="matrix(1.0072,0,0,1.0000,-0.25,0.00)" style="font-family:'Liberation Serif',serif;font-size:16.7px">log</text>
<text class="mt" transform="matrix(1.0118,0,0,1.0000,27.54,0.00)" style="font-family:'Liberation Serif',serif;font-size:16.7px">(</text>
<text class="mt" transform="matrix(1.1613,0,0,1.0000,33.02,0.00)" style="font-family:'Liberation Serif',serif;font-size:16.7px;font-style:italic">ϕ</text>
<text class="mt" transform="matrix(1.6000,0,0,1.0000,43.20,0.00)" style="font-family:'Liberation Serif',serif;font-size:16.7px">/</text>
<text class="mt" transform="matrix(1.0625,0,0,1.0000,50.83,0.00)" style="font-family:'Liberation Serif',serif;font-size:16.7px">h</text>
<text class="mt" transform="matrix(1.0105,0,0,1.0000,61.19,-6.75)" style="font-family:'Liberation Serif',serif;font-size:11.5px">3</text>
<text class="mt" transform="matrix(1.0576,0,0,1.0000,72.77,0.00)" style="font-family:'Liberation Serif',serif;font-size:16.7px">Mpc</text>
<text class="mt" transform="matrix(1.2178,0,0,1.0000,106.59,-6.75)" style="font-family:'Liberation Serif',serif;font-size:11.5px">−3</text>
<text class="mt" transform="matrix(1.0596,0,0,1.0000,126.87,0.00)" style="font-family:'Liberation Serif',serif;font-size:16.7px">dex</text>
<text class="mt" transform="matrix(1.0273,0,0,1.0000,155.19,-6.50)" style="font-family:'Liberation Serif',serif;font-size:11.5px">−1</text>
<text class="mt" transform="matrix(1.1059,0,0,1.0000,169.55,0.00)" style="font-family:'Liberation Serif',serif;font-size:16.7px">)</text>
</g>
<text transform="matrix(0.9952,0,0,1.0000,202.50,22.30)" style="font-family:'DejaVu Serif',serif;font-size:17px">major mergers</text>
<text transform="matrix(0.9969,0,0,1.0000,215.50,171.10)" style="font-family:'DejaVu Serif',serif;font-size:17px">post mergers</text>
</svg></div></body></html>
